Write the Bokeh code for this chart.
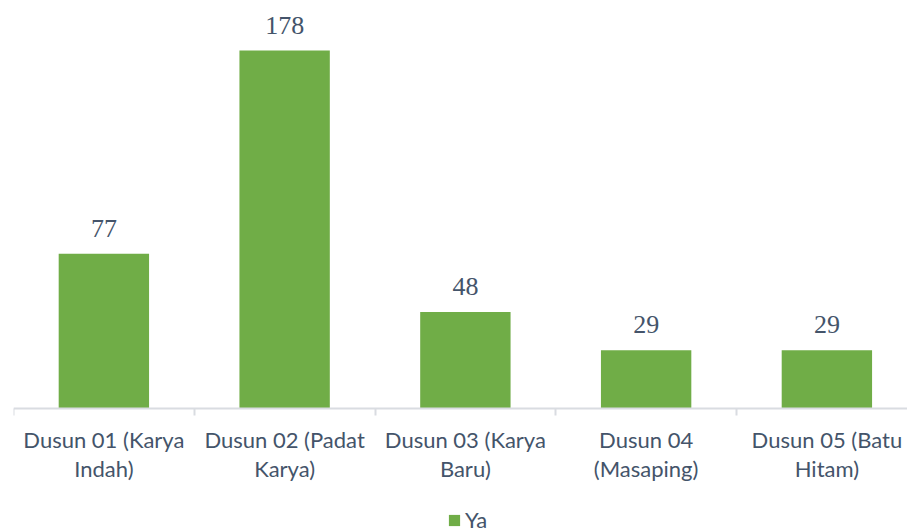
from bokeh.plotting import figure
from bokeh.models import Range1d, FixedTicker, Legend, LegendItem, ColumnDataSource, LabelSet
from bokeh.embed import file_html
from bokeh.resources import INLINE

categories = ["Dusun 01 (Karya\nIndah)", "Dusun 02 (Padat\nKarya)", "Dusun 03 (Karya\nBaru)",
              "Dusun 04\n(Masaping)", "Dusun 05 (Batu\nHitam)"]
values_ya = [77, 178, 48, 29, 29]
series_name = "Ya"

xs = list(range(len(categories)))
src = ColumnDataSource(dict(x=xs, top=values_ya, label=[str(v) for v in values_ya]))

# y=0 sits 400px below the frame top; the frame continues 123px below it
p = figure(frame_width=894, frame_height=523, output_backend="svg", toolbar_location=None,
           x_range=Range1d(-0.5, 4.446), y_range=Range1d(-61.16, 198.9),
           y_axis_location=None, min_border_left=13, min_border_right=0,
           min_border_top=8, min_border_bottom=0)
p.outline_line_color = None
p.grid.visible = False
p.background_fill_color = None
p.border_fill_color = "white"

r = p.vbar(x="x", top="top", width=0.5, bottom=0, source=src,
           fill_color="#70AD47", line_color=None)

labels = LabelSet(x="x", y="top", text="label", source=src, y_offset=17,
                  text_align="center", text_baseline="bottom",
                  text_font="Liberation Serif", text_font_size="26px", text_color="#44546A")
p.add_layout(labels)

ax = p.xaxis[0]
ax.fixed_location = 0
ax.ticker = FixedTicker(ticks=xs, minor_ticks=[i - 0.5 for i in range(len(categories) + 1)])
ax.major_label_overrides = {i: c for i, c in enumerate(categories)}
ax.major_tick_line_color = None
ax.minor_tick_in = 0
ax.minor_tick_out = 7
ax.minor_tick_line_color = "#D9DCE1"
ax.minor_tick_line_width = 2
ax.axis_line_color = "#D9DCE1"
ax.axis_line_width = 2
ax.major_label_text_font = "Lato"
ax.major_label_text_font_size = "22px"
ax.major_label_text_color = "#44546A"
ax.major_label_text_line_height = 1.08
ax.major_label_standoff = 10

legend = Legend(items=[LegendItem(label=series_name, renderers=[r])],
                location=(434, -2), orientation="horizontal",
                border_line_color=None, background_fill_alpha=0,
                label_text_font="Lato", label_text_font_size="22px",
                label_text_color="#44546A", glyph_width=14, glyph_height=14,
                label_standoff=4, padding=0, margin=0, label_height=14)
p.add_layout(legend, "center")

open("out.html", "w").write(file_html(p, INLINE))
